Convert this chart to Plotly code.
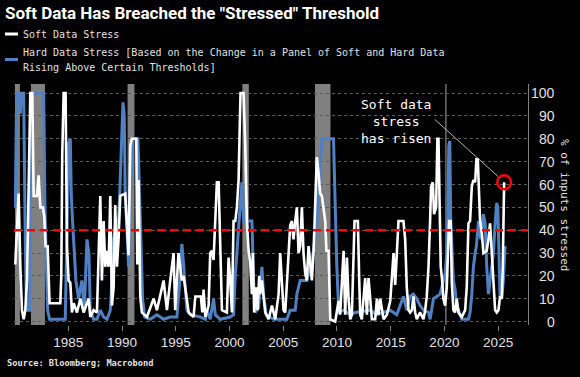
import plotly.graph_objects as go

# ---------------- data (decimal years, % of inputs stressed) ----------------
soft_years = [1980.07, 1980.38, 1980.54, 1980.69, 1980.85, 1981.00, 1981.16, 1981.31, 1981.47, 1981.65,
              1981.78, 1982.09, 1982.24, 1982.40, 1982.64, 1982.77, 1982.89, 1983.08, 1983.26, 1984.26,
              1984.35, 1984.44, 1984.57, 1984.75, 1984.88, 1985.03, 1985.19, 1985.34, 1985.50, 1985.81,
              1986.12, 1986.43, 1986.89, 1987.05, 1987.36, 1987.67, 1987.82, 1987.98, 1988.13, 1988.29,
              1988.44, 1988.60, 1988.75, 1988.91, 1989.06, 1989.22, 1989.37, 1989.53, 1989.68, 1989.84,
              1990.30, 1990.46, 1990.61, 1990.77, 1990.92, 1991.33, 1991.42, 1991.54, 1991.70, 1991.85,
              1992.32, 1992.94, 1993.25, 1993.87, 1994.18, 1994.49, 1994.80, 1994.95, 1995.26, 1995.57,
              1995.73, 1996.20, 1996.66, 1996.82, 1997.34, 1997.47, 1997.59, 1997.75, 1998.06, 1998.21,
              1998.37, 1998.52, 1998.68, 1998.83, 1998.99, 1999.08, 1999.14, 1999.23, 1999.30, 1999.76,
              1999.92, 2000.07, 2000.23, 2000.38, 2000.54, 2000.69, 2000.85, 2000.94, 2001.03, 2001.31,
              2001.47, 2001.62, 2001.78, 2001.93, 2002.09, 2002.18, 2002.30, 2002.49, 2002.61, 2002.77,
              2002.86, 2003.02, 2003.17, 2003.33, 2003.64, 2003.95, 2004.26, 2004.57, 2004.72, 2004.88,
              2005.03, 2005.19, 2005.34, 2005.50, 2005.65, 2005.81, 2005.96, 2006.12, 2006.27, 2006.43,
              2006.58, 2006.74, 2006.89, 2007.05, 2007.20, 2007.36, 2007.51, 2007.67, 2007.82, 2007.98,
              2008.13, 2008.29, 2008.44, 2008.60, 2008.75, 2008.91, 2009.02, 2009.22, 2009.38, 2009.84,
              2010.15, 2010.30, 2010.62, 2010.77, 2010.93, 2011.08, 2011.24, 2011.39, 2011.64, 2011.95,
              2012.07, 2012.17, 2012.32, 2012.48, 2012.63, 2012.79, 2012.94, 2013.10, 2013.25, 2013.56,
              2013.72, 2013.87, 2014.03, 2014.34, 2014.65, 2014.96, 2015.11, 2015.27, 2015.42, 2015.58,
              2015.73, 2016.19, 2016.35, 2016.50, 2016.66, 2016.81, 2016.97, 2017.12, 2017.28, 2017.43,
              2017.74, 2018.05, 2018.21, 2018.36, 2018.52, 2018.67, 2018.76, 2018.92, 2019.04, 2019.23,
              2019.35, 2019.45, 2019.54, 2019.66, 2019.79, 2019.91, 2020.07, 2020.22, 2020.44, 2020.59,
              2020.69, 2020.84, 2021.00, 2021.15, 2021.31, 2021.62, 2021.93, 2022.08, 2022.24, 2022.39,
              2022.55, 2022.70, 2022.86, 2022.98, 2023.11, 2023.20, 2023.32, 2023.48, 2023.63, 2023.94,
              2024.10, 2024.25, 2024.41, 2024.56, 2024.72, 2024.87, 2025.03, 2025.18, 2025.34, 2025.43,
              2025.56]
soft_values = [25, 56, 24, 5, 1, 5, 18, 55, 100, 100,
               55, 55, 64, 50, 50, 46, 33, 33, 8, 8,
               20, 73, 100, 100, 33, 18, 17, 4, 8, 4,
               10, 4, 10, 2, 5, 4, 30, 55, 18, 44,
               24, 31, 24, 55, 7, 15, 51, 24, 36, 55,
               56, 40, 29, 77, 80, 80, 25, 62, 11, 4,
               2, 10, 5, 18, 5, 18, 30, 5, 30, 18,
               20, 4, 2, 11, 11, 4, 14, 2, 7, 30,
               31, 27, 44, 61, 61, 44, 33, 18, 5, 4,
               28, 18, 4, 44, 44, 50, 62, 82, 100, 100,
               77, 44, 31, 26, 12, 30, 4, 15, 5, 20,
               12, 18, 10, 4, 1, 7, 1, 12, 30, 18,
               5, 4, 18, 30, 42, 44, 36, 44, 50, 30,
               33, 50, 30, 21, 18, 33, 24, 18, 30, 50,
               72, 65, 56, 55, 50, 44, 31, 31, 1, 0,
               9, 3, 31, 3, 28, 10, 1, 3, 44, 44,
               19, 3, 1, 10, 19, 3, 19, 10, 1, 1,
               10, 3, 10, 1, 3, 9, 19, 30, 16, 28,
               44, 44, 36, 15, 5, 4, 5, 11, 4, 1,
               4, 1, 5, 11, 24, 44, 59, 61, 47, 50,
               80, 80, 47, 24, 18, 10, 7, 15, 44, 44,
               17, 5, 4, 10, 4, 2, 5, 15, 43, 44,
               59, 62, 61, 71, 71, 61, 44, 39, 30, 31,
               36, 43, 30, 18, 5, 4, 5, 11, 10, 24,
               61]

hard_years = [1980.07, 1980.20, 1980.44, 1980.54, 1980.63, 1980.85, 1981.00, 1981.09, 1981.22, 1981.40,
              1981.53, 1982.71, 1982.83, 1982.95, 1983.08, 1983.26, 1984.72, 1984.88, 1985.03, 1985.19,
              1985.28, 1985.40, 1985.56, 1985.71, 1985.96, 1986.27, 1986.49, 1986.74, 1986.92, 1987.05,
              1987.36, 1987.67, 1987.98, 1988.29, 1988.60, 1988.91, 1989.06, 1989.22, 1989.47, 1989.59,
              1989.78, 1989.93, 1990.09, 1990.21, 1990.30, 1990.46, 1990.61, 1990.77, 1990.95, 1991.48,
              1991.64, 1991.76, 1991.92, 1992.10, 1992.63, 1993.25, 1993.87, 1994.49, 1995.11, 1995.42,
              1995.57, 1995.73, 1996.04, 1996.35, 1997.28, 1997.75, 1997.90, 1998.21, 1998.52, 1998.68,
              1999.14, 2000.07, 2000.38, 2000.54, 2000.75, 2000.94, 2001.16, 2001.31, 2002.09, 2002.24,
              2002.40, 2002.71, 2003.02, 2003.17, 2003.42, 2004.10, 2005.34, 2005.65, 2006.12, 2006.27,
              2006.58, 2007.20, 2007.51, 2007.82, 2008.13, 2008.38, 2008.60, 2009.68, 2009.84, 2009.99,
              2010.18, 2010.61, 2011.23, 2011.70, 2013.09, 2013.71, 2014.95, 2015.57, 2016.19, 2016.50,
              2016.81, 2017.12, 2017.43, 2017.74, 2018.05, 2018.52, 2018.67, 2018.98, 2019.29, 2019.60,
              2019.91, 2020.07, 2020.22, 2020.31, 2020.41, 2020.50, 2020.59, 2020.69, 2020.84, 2021.00,
              2021.15, 2021.31, 2021.62, 2022.24, 2022.39, 2022.55, 2022.70, 2022.86, 2022.98, 2023.17,
              2023.39, 2023.63, 2023.79, 2023.94, 2024.10, 2024.25, 2024.41, 2024.56, 2024.72, 2024.87,
              2024.97, 2025.06, 2025.18, 2025.34, 2025.49, 2025.65]
hard_values = [50, 100, 100, 91, 100, 100, 36, 10, 5, 5,
               100, 100, 50, 30, 5, 1, 1, 40, 78, 80,
               55, 44, 30, 18, 10, 18, 5, 36, 30, 5,
               1, 1, 5, 2, 1, 5, 18, 36, 45, 36,
               55, 80, 96, 90, 55, 40, 24, 50, 80, 80,
               50, 30, 10, 2, 1, 3, 1, 2, 2, 20,
               34, 25, 5, 3, 2, 1, 5, 1, 10, 3,
               1, 2, 3, 20, 36, 47, 61, 44, 44, 18,
               4, 6, 24, 12, 3, 1, 1, 5, 5, 12,
               18, 18, 24, 31, 43, 62, 80, 80, 45, 24,
               4, 5, 3, 4, 5, 3, 5, 3, 11, 5,
               11, 12, 10, 7, 5, 4, 1, 10, 11, 12,
               18, 21, 30, 44, 77, 79, 44, 30, 18, 14,
               7, 5, 1, 1, 4, 12, 24, 30, 33, 44,
               36, 47, 43, 24, 12, 18, 24, 30, 43, 52,
               50, 30, 11, 10, 18, 33]

# US recessions (decimal years)
recession_starts = [1980.04, 1981.53, 1990.52, 2001.20, 2007.96, 2020.08]
recession_ends = [1980.50, 1982.83, 1991.16, 2001.80, 2009.40, 2020.20]

threshold = 40
x_tick_years = [1985, 1990, 1995, 2000, 2005, 2010, 2015, 2020, 2025]
y_tick_values = [0, 10, 20, 30, 40, 50, 60, 70, 80, 90, 100]
y_tick_labels = [str(v) for v in y_tick_values]

title_text = 'Soft Data Has Breached the "Stressed" Threshold'
soft_name = "Soft Data Stress"
hard_name_1 = "Hard Data Stress [Based on the Change in a Panel of Soft and Hard Data"
hard_name_2 = "Rising Above Certain Thresholds]"
source_text = "Source: Bloomberg; Macrobond"
axis_title = "% of inputs stressed"
callout_text = "Soft data<br>stress<br>has risen"

# ---------------- styling ----------------
W, H = 580, 377
L, R, T, B = 14, 52, 84, 52
PW, PH = W - L - R, H - T - B

def px_x(px):
    return (px - L) / PW

def px_y(py):
    return (H - B - py) / PH

WHITE = "#ffffff"
BLUE = "#4f81c2"
TXT = "#e2e2e2"
MONO = "DejaVu Sans Mono"
SANS = "Liberation Sans"

fig = go.Figure()

fig.add_trace(go.Scatter(x=hard_years, y=hard_values, mode="lines", name=hard_name_1,
                         line=dict(color=BLUE, width=3), showlegend=False, hoverinfo="skip"))
fig.add_trace(go.Scatter(x=soft_years, y=soft_values, mode="lines", name=soft_name,
                         line=dict(color=WHITE, width=2.6), showlegend=False, hoverinfo="skip"))
fig.add_trace(go.Scatter(x=[soft_years[-1]], y=[soft_values[-1]], mode="markers",
                         marker=dict(symbol="circle-open", size=14, color="#ff0000",
                                     line=dict(width=2.4, color="#ff0000")),
                         showlegend=False, hoverinfo="skip"))

shapes = []
for s, e in zip(recession_starts, recession_ends):
    shapes.append(dict(type="rect", xref="x", yref="paper", x0=s, x1=e, y0=0, y1=1,
                       fillcolor="#808080", line=dict(width=0), layer="between"))
shapes.append(dict(type="line", xref="paper", yref="y", x0=0, x1=1, y0=threshold, y1=threshold,
                   line=dict(color="#ff0000", width=2.5, dash="8px,5px"), layer="above"))
# callout connector
shapes.append(dict(type="line", xref="x", yref="y", x0=2019.1, y0=88.5, x1=2025.0, y1=63.5,
                   line=dict(color="#b4b4b4", width=1), layer="above"))
# legend swatches
shapes.append(dict(type="line", xref="paper", yref="paper", x0=px_x(5), x1=px_x(18),
                   y0=px_y(34), y1=px_y(34), line=dict(color=WHITE, width=3)))
shapes.append(dict(type="line", xref="paper", yref="paper", x0=px_x(5), x1=px_x(18),
                   y0=px_y(59.5), y1=px_y(59.5), line=dict(color=BLUE, width=3)))

annotations = []
for v, lab in zip(y_tick_values, y_tick_labels):
    annotations.append(dict(xref="paper", yref="y", x=px_x(557), y=v, text=lab, showarrow=False,
                            xanchor="right", yanchor="middle",
                            font=dict(family=SANS, size=14, color=TXT)))
annotations += [
    dict(xref="paper", yref="paper", x=px_x(21), y=px_y(34), text=soft_name, showarrow=False,
         xanchor="left", yanchor="middle", font=dict(family=MONO, size=10, color=TXT)),
    dict(xref="paper", yref="paper", x=px_x(21), y=px_y(52.5), text=hard_name_1, showarrow=False,
         xanchor="left", yanchor="middle", font=dict(family=MONO, size=10, color=TXT)),
    dict(xref="paper", yref="paper", x=px_x(21), y=px_y(67), text=hard_name_2, showarrow=False,
         xanchor="left", yanchor="middle", font=dict(family=MONO, size=10, color=TXT)),
    dict(xref="paper", yref="paper", x=px_x(5), y=px_y(363.5), text="<b>" + source_text + "</b>",
         showarrow=False, xanchor="left", yanchor="middle",
         font=dict(family=MONO, size=8.7, color=TXT)),
    dict(xref="paper", yref="paper", x=px_x(565), y=px_y(205), text=axis_title, showarrow=False,
         textangle=90, xanchor="center", yanchor="middle",
         font=dict(family=MONO, size=11, color=TXT)),
    dict(xref="x", yref="y", x=2015.45, y=87.5, text=callout_text, showarrow=False,
         xanchor="center", yanchor="middle", align="center",
         font=dict(family=MONO, size=13, color=WHITE)),
]

fig.update_layout(
    width=W, height=H,
    margin=dict(l=L, r=R, t=T, b=B, pad=0),
    paper_bgcolor="#000000", plot_bgcolor="#000000",
    title=dict(text="<b>" + title_text + "</b>", xref="container", yref="container",
               x=5 / W, y=1 - 13 / H, xanchor="left", yanchor="middle",
               font=dict(family="Roboto", size=17, color=WHITE)),
    shapes=shapes, annotations=annotations,
    xaxis=dict(range=[1979.95, 2027.78], tickvals=x_tick_years,
               ticktext=[str(y) for y in x_tick_years],
               showgrid=False, zeroline=False, showline=False,
               ticks="outside", ticklen=5, tickcolor="#808080", tickwidth=1,
               tickfont=dict(family=SANS, size=13.5, color=TXT)),
    yaxis=dict(range=[-1.5, 104], side="right", tickvals=y_tick_values, showticklabels=False,
               showgrid=True, gridcolor="#5a5a5a", griddash="dot", gridwidth=1,
               zeroline=False, showline=True, linecolor="#808080", linewidth=1, ticks=""),
)

fig.write_html(
    "out.html",
    config={"displayModeBar": False},
    post_script="document.body.style.margin='0px';document.body.style.background='#000000';"
                "document.body.style.overflow='hidden';",
)
